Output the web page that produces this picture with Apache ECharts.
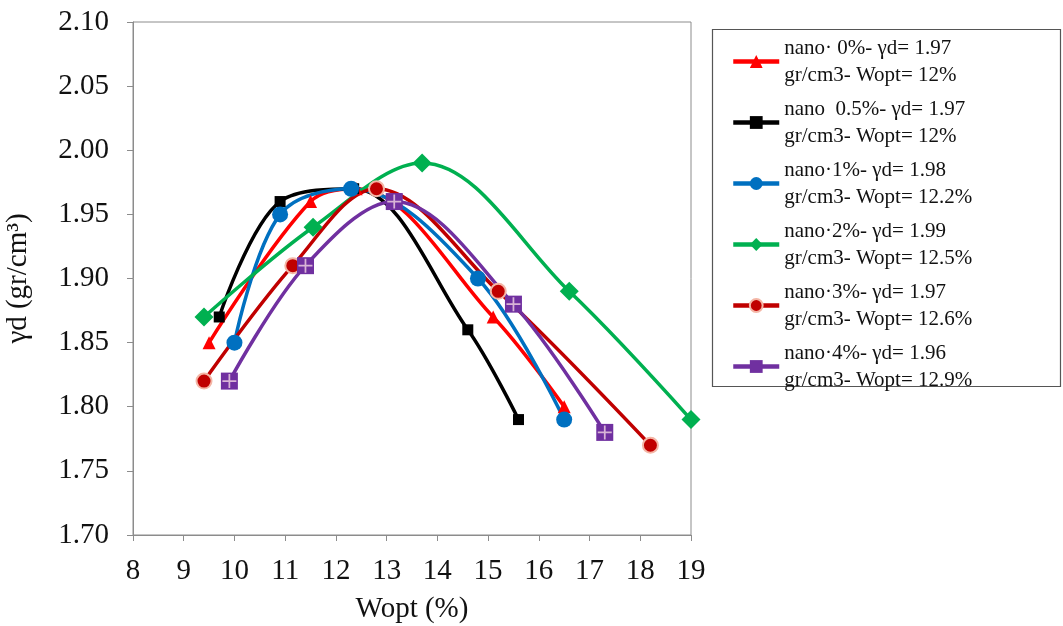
<!DOCTYPE html>
<html>
<head>
<meta charset="utf-8">
<script src="https://cdn.jsdelivr.net/npm/echarts@6/dist/echarts.min.js"></script>
<style>html,body{margin:0;padding:0;background:#fff}#c{width:1063px;height:626px}</style>
</head>
<body>
<div id="c"></div>
<script>
const xTicks = [8, 19, 1];
const yTicks = [1.70, 2.10, 0.05];
const names = [
  "nano· 0%- γd= 1.97\ngr/cm3- Wopt= 12%",
  "nano  0.5%- γd= 1.97\ngr/cm3- Wopt= 12%",
  "nano·1%- γd= 1.98\ngr/cm3- Wopt= 12.2%",
  "nano·2%- γd= 1.99\ngr/cm3- Wopt= 12.5%",
  "nano·3%- γd= 1.97\ngr/cm3- Wopt= 12.6%",
  "nano·4%- γd= 1.96\ngr/cm3- Wopt= 12.9%"
];
const nano0 = [[9.5,1.85],[11.5,1.96],[12.4,1.97],[15.1,1.87],[16.5,1.80]];
const nano05 = [[9.7,1.87],[10.9,1.96],[12.35,1.97],[14.6,1.86],[15.6,1.79]];
const nano1 = [[10.0,1.85],[10.9,1.95],[12.3,1.97],[14.8,1.90],[16.5,1.79]];
const nano2 = [[9.4,1.87],[11.55,1.94],[13.7,1.99],[16.6,1.89],[19.0,1.79]];
const nano3 = [[9.4,1.82],[11.15,1.91],[12.8,1.97],[15.2,1.89],[18.2,1.77]];
const nano4 = [[9.9,1.82],[11.4,1.91],[13.15,1.96],[15.5,1.88],[17.3,1.78]];

const serif = "Liberation Serif";
const plusPath = 'path://M9,2L11,2L11,9L18,9L18,11L11,11L11,18L9,18L9,11L2,11L2,9L9,9Z';

function mk(name, data, color, symbol, size, extra) {
  return Object.assign({
    name: name, type: 'line', data: data, smooth: 0.35,
    symbol: symbol, symbolSize: size, showSymbol: true,
    lineStyle: {color: color, width: 3.5},
    itemStyle: {color: color},
    z: 2
  }, extra || {});
}

const chart = echarts.init(document.getElementById('c'), null, {renderer: 'canvas'});
chart.setOption({
  animation: false,
  backgroundColor: '#fff',
  grid: {left: 133, right: 372, top: 22, bottom: 91, show: true, borderColor: '#8c8c8c', borderWidth: 1,
         containLabel: false, outerBoundsMode: 'none'},
  xAxis: {
    type: 'value', min: xTicks[0], max: xTicks[1], interval: xTicks[2],
    name: 'Wopt (%)', nameLocation: 'middle', nameGap: 60,
    nameTextStyle: {fontFamily: serif, fontSize: 29, color: '#111'},
    axisLine: {lineStyle: {color: '#8c8c8c'}},
    axisTick: {show: true, length: 6, lineStyle: {color: '#8c8c8c'}},
    axisLabel: {fontFamily: serif, fontSize: 29, color: '#111', margin: 22},
    splitLine: {show: false}
  },
  yAxis: {
    type: 'value', min: yTicks[0], max: yTicks[1], interval: yTicks[2],
    name: 'γd (gr/cm³)', nameLocation: 'middle', nameGap: 100, nameRotate: 90,
    nameTextStyle: {fontFamily: serif, fontSize: 29, color: '#111'},
    axisLine: {show: true, lineStyle: {color: '#8c8c8c'}},
    axisTick: {show: true, length: 6, lineStyle: {color: '#8c8c8c'}},
    axisLabel: {fontFamily: serif, fontSize: 29, color: '#111', margin: 24,
      formatter: v => v.toFixed(2)},
    splitLine: {show: false}
  },
  legend: {
    orient: 'vertical', left: 726, top: 16,
    itemWidth: 46, itemHeight: 16, itemGap: -20,
    lineStyle: {width: 4.5},
    data: names.map(n => ({name: n})),
    textStyle: {fontFamily: serif, fontSize: 21, color: '#111', lineHeight: 27, padding: [27, 0, 0, 0]}
  },
  graphic: [{
    type: 'rect', left: 710, top: 27, shape: {width: 348, height: 357},
    style: {fill: 'none', stroke: '#555', lineWidth: 1.2}, silent: true
  }],
  series: [
    mk(names[0], nano0, '#ff0000', 'triangle', 13),
    mk(names[1], nano05, '#000000', 'rect', 11),
    mk(names[2], nano1, '#0070c0', 'circle', 16),
    mk(names[3], nano2, '#00b050', 'diamond', 19),
    mk(names[4], nano3, '#c00000', 'circle', 15, {itemStyle: {color: '#c00000', borderColor: '#f4b6a6', borderWidth: 2}}),
    mk(names[5], nano4, '#7030a0', 'rect', 17),
    {name: 'cross4', type: 'scatter', data: nano4, symbol: plusPath, symbolSize: 14,
     itemStyle: {color: '#f3d6e4'}, z: 5, silent: true}
  ]
});
</script>
</body>
</html>
